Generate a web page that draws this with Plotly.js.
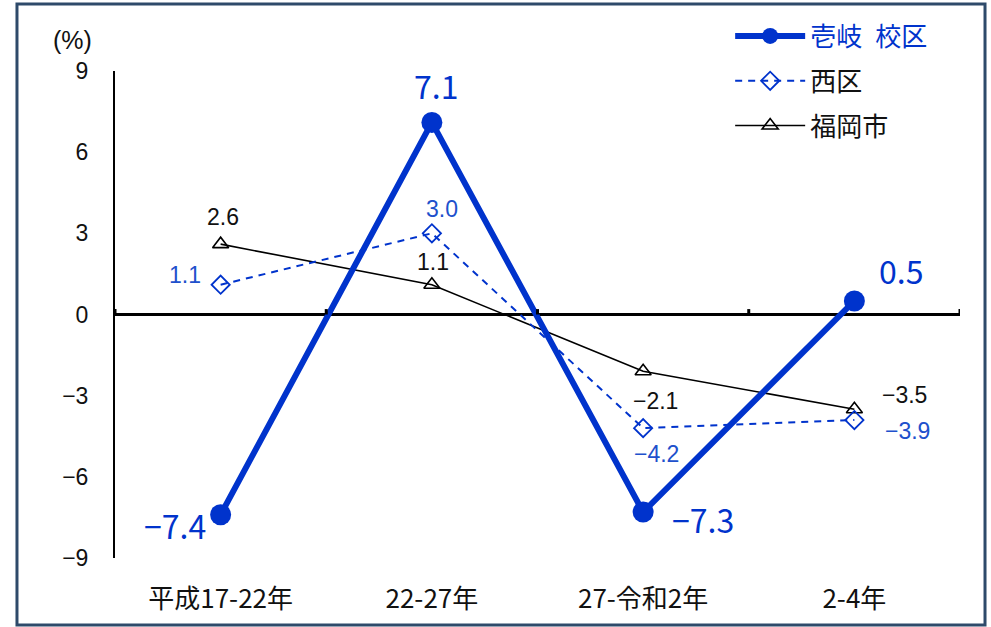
<!DOCTYPE html>
<html>
<head>
<meta charset="utf-8">
<script src="https://cdn.plot.ly/plotly-3.0.1.min.js"></script>
<style>
  html, body { margin: 0; padding: 0; background: #ffffff; }
  #chart { width: 991px; height: 627px; }
</style>
</head>
<body>
<div id="chart"></div>
<script>
// ---- data ----
var categories = ['平成17-22年', '22-27年', '27-令和2年', '2-4年'];
var ikiValues = [-7.4, 7.1, -7.3, 0.5];
var nishiValues = [1.1, 3.0, -4.2, -3.9];
var fukuokaValues = [2.6, 1.1, -2.1, -3.5];
var seriesNames = ['壱岐\u2002校区', '西区', '福岡市'];
var yTickValues = [-9, -6, -3, 0, 3, 6, 9];
var unitLabel = '(%)';

// ---- styling (label offsets in pixels) ----
var ikiShift = [[-46, -10], [4, 37], [60, -7], [47, 31]];
var nishiShift = [[-36, 10], [10, 24], [13, -26], [53, -11]];
var fukuokaShift = [[2, 27], [1, 23], [12, -30], [50, 14]];

var BLUE = '#0033CC';
var CJK = 'Noto Sans CJK JP, sans-serif';
var NARROW = 'Liberation Sans Narrow, Noto Sans CJK JP, sans-serif';
var SANS = 'Liberation Sans, Arial, sans-serif';

function fmt(v) {
  var s = v.toFixed(1);
  return v < 0 ? '\u2212' + s.slice(1) : s;
}
function fmtTick(v) {
  return v < 0 ? '\u2212' + String(-v) : String(v);
}

var traces = [
  {
    x: categories, y: fukuokaValues, name: seriesNames[2], type: 'scatter', mode: 'lines+markers',
    legendgroup: 'c', legendrank: 3,
    line: { color: '#000000', width: 1.6 },
    marker: { symbol: 'triangle-up-open', size: 14, color: '#000000', line: { width: 1.6, color: '#000000' } },
    hoverinfo: 'skip'
  },
  {
    x: categories, y: nishiValues, name: seriesNames[1], type: 'scatter', mode: 'lines+markers',
    legendgroup: 'b', legendrank: 2,
    line: { color: BLUE, width: 2, dash: '7px,6px' },
    marker: { symbol: 'diamond-open', size: 14, color: BLUE, line: { width: 1.8, color: BLUE } },
    hoverinfo: 'skip'
  },
  {
    x: categories, y: ikiValues,
    name: '<span style="color:' + BLUE + '">' + seriesNames[0] + '</span>',
    type: 'scatter', mode: 'lines+markers',
    legendgroup: 'a', legendrank: 1,
    line: { color: BLUE, width: 6 },
    marker: { symbol: 'circle', size: 21, color: BLUE },
    hoverinfo: 'skip'
  }
];

var annotations = [];
function addLabels(values, shifts, color, font, size) {
  for (var i = 0; i < values.length; i++) {
    annotations.push({
      x: categories[i], y: values[i], xref: 'x', yref: 'y',
      text: fmt(values[i]), showarrow: false,
      xshift: shifts[i][0], yshift: shifts[i][1],
      font: { family: font, size: size, color: color }
    });
  }
}
addLabels(ikiValues, ikiShift, BLUE, NARROW, 32);
addLabels(nishiValues, nishiShift, '#2050CC', SANS, 23);
addLabels(fukuokaValues, fukuokaShift, '#111111', SANS, 23);

annotations.push({
  x: 0, y: 1, xref: 'paper', yref: 'paper',
  xanchor: 'center', yanchor: 'middle',
  xshift: -43, yshift: 31,
  text: unitLabel, showarrow: false,
  font: { family: SANS, size: 25, color: '#111111' }
});

var shapes = [];
// boundary tick marks on the zero line
for (var b = 0; b <= categories.length; b++) {
  shapes.push({
    type: 'line', xref: 'x', yref: 'y',
    x0: b - 0.5, x1: b - 0.5, y0: 0, y1: 0.2,
    line: { color: '#000000', width: 3 }
  });
}
// outer frame
shapes.push({
  type: 'rect', xref: 'paper', yref: 'paper',
  x0: -0.116, x1: 1.0296, y0: -0.1376, y1: 1.1376,
  line: { color: '#2E4A6A', width: 3 }, fillcolor: 'rgba(0,0,0,0)', layer: 'below'
});

var layout = {
  width: 991, height: 627,
  margin: { l: 115, r: 31, t: 71, b: 69 },
  paper_bgcolor: '#ffffff', plot_bgcolor: '#ffffff',
  showlegend: true,
  legend: {
    x: 0.728, y: 1.12, xanchor: 'left', yanchor: 'top',
    font: { family: CJK, size: 26, color: '#111111' },
    traceorder: 'grouped', tracegroupgap: 8,
    itemwidth: 70, bgcolor: 'rgba(0,0,0,0)'
  },
  xaxis: {
    type: 'category', range: [-0.5, 3.5],
    showline: false, showgrid: false, zeroline: false, ticks: '',
    ticklabelstandoff: 23,
    tickfont: { family: NARROW, size: 26, color: '#111111' },
    fixedrange: true
  },
  yaxis: {
    range: [-9, 9],
    tickvals: yTickValues, ticktext: yTickValues.map(fmtTick),
    showline: true, linecolor: '#000000', linewidth: 2,
    showgrid: false, ticks: '',
    zeroline: true, zerolinecolor: '#000000', zerolinewidth: 3,
    ticklabelstandoff: 20,
    tickfont: { family: SANS, size: 23, color: '#111111' },
    fixedrange: true
  },
  annotations: annotations,
  shapes: shapes
};

Plotly.newPlot('chart', traces, layout, { displayModeBar: false, staticPlot: true });
</script>
</body>
</html>
